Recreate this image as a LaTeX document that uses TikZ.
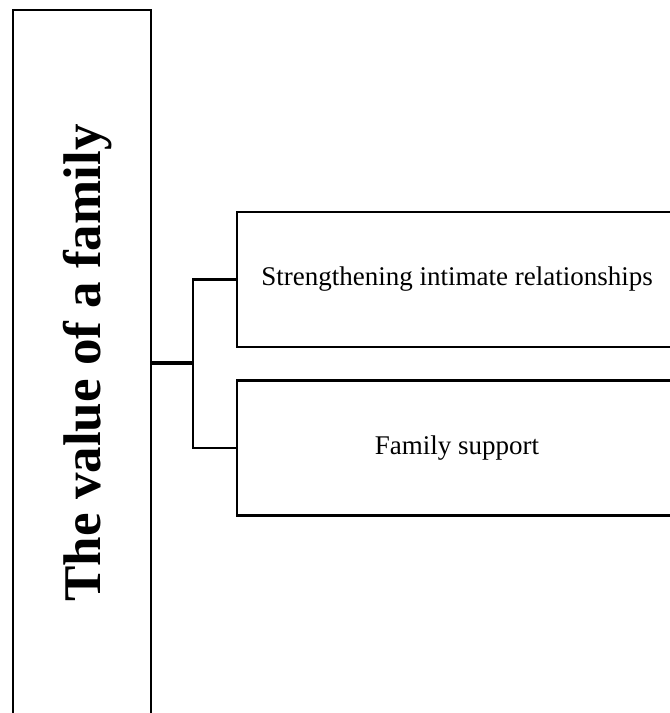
\documentclass[tikz,border=0pt]{standalone}
\usepackage{fontspec}
\setmainfont{Liberation Serif}
\begin{document}
\begin{tikzpicture}[x=1pt,y=-1pt,
  frame/.style={draw=black,line width=2.1pt,rectangle,inner sep=0pt},
  branch/.style={frame,minimum width=440pt,minimum height=135pt,
    font=\fontsize{27}{32}\selectfont},
  link/.style={draw=black,line width=2.1pt},
  trunk/.style={draw=black,line width=3.1pt}]
\useasboundingbox (0,0) rectangle (670,713);
\clip (0,0) rectangle (670,713);
% root box (runs past the lower edge)
\node[frame,minimum width=138pt,minimum height=720pt] (root) at (82,370) {};
\node[rotate=90,anchor=base,font=\bfseries\fontsize{53}{60}\selectfont] (title) at (100,363) {The value of a family};
% child boxes
\node[branch] (c1) at (457,279.5) {\raisebox{-2pt}{Strengthening intimate relationships}};
\node[branch] (c2) at (457,448) {\raisebox{-3pt}{Family support}};
% connectors
\coordinate (j) at (193,363);
\draw[trunk] (root.east |- j) -- (j);
\draw[link] (c1.west) -- (c1.west -| j) -- (c2.west -| j) -- (c2.west);
\end{tikzpicture}
\end{document}
